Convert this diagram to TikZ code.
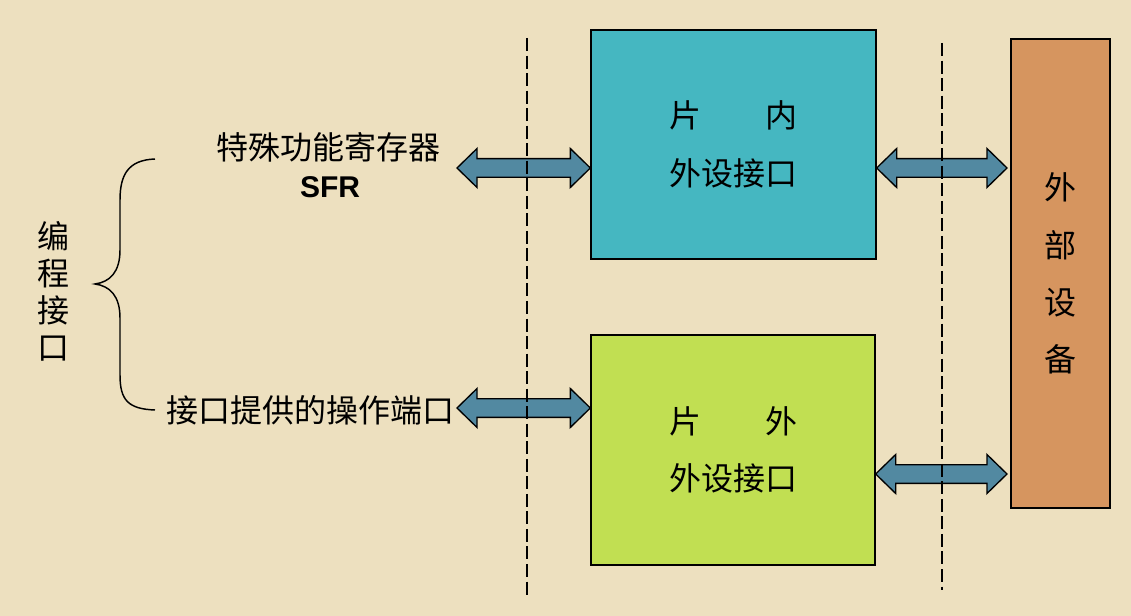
\documentclass[tikz,border=0pt]{standalone}
\usepackage{fontspec}
\newfontfamily\cjk{Noto Sans CJK SC}
\newfontfamily\arialfont{Liberation Sans}
\usetikzlibrary{calc}
\definecolor{bgtan}{HTML}{EDE0BF}
\definecolor{incyan}{HTML}{45B7C1}
\definecolor{extlime}{HTML}{C1DF52}
\definecolor{devorange}{HTML}{D6955F}
\definecolor{busblue}{HTML}{5289A1}
\newcommand{\busarrow}[2]{\draw[fill=busblue,line width=1pt,line join=miter] let \p1=(#1), \p2=(#2) in
	(\x1,\y1) -- (\x1+15pt,\y1+14.6pt) -- (\x1+15pt,\y1+7pt) -- (\x2-15pt,\y2+7pt) -- (\x2-15pt,\y2+14.6pt) -- (\x2,\y2)
	-- (\x2-15pt,\y2-14.6pt) -- (\x2-15pt,\y2-7pt) -- (\x1+15pt,\y1-7pt) -- (\x1+15pt,\y1-14.6pt) -- cycle;}

\begin{document}
\begin{tikzpicture}[x=0.75pt,y=-0.75pt,every node/.style={font=\cjk\fontsize{24}{43}\selectfont,inner sep=0pt}]
	\useasboundingbox (0,0) rectangle (1131,616);
	\fill[bgtan] (0,0) rectangle (1131,616);
	
	\begin{scope}[every node/.style={draw,line width=1pt,align=center,font=\cjk\fontsize{24}{43}\selectfont,inner sep=0pt}]
	\node[fill=incyan,minimum width=213.75pt,minimum height=171.75pt] (inner) at (733.5,144.5){片\hspace{2em}内\\外设接口};
	\node[fill=extlime,minimum width=213pt,minimum height=172.5pt] (outer) at (733,450){片\hspace{2em}外\\外设接口};
	\node[fill=devorange,minimum width=74.25pt,minimum height=351.75pt] (dev) at (1060.5,273.5){外\\部\\设\\备};
	\end{scope}
	
	\node (sfr) at (328,147){特殊功能寄存器};
	\node[font=\arialfont\bfseries\fontsize{22.5}{26}\selectfont] (sfrname) at (330,187){SFR};
	\node (port) at (310,410){接口提供的操作端口};
	\node[align=center,font=\cjk\fontsize{24}{27.75}\selectfont] (prog) at (53,291){编\\程\\接\\口};
	
	%brace
	\coordinate (bt) at (155,159);
	\coordinate (bm) at (95,284);
	\coordinate (bb) at (155,410);
	\draw[line width=1.1pt] (bt) .. controls (128,160) and (120,175) .. (120,200) -- (120,250) .. controls (120,272) and (110,282) .. (bm)
		.. controls (110,286) and (120,296) .. (120,318) -- (120,375) .. controls (120,400) and (128,409) .. (bb);
	
	%buses
	\coordinate (b1) at (457,168);
	\coordinate (b2) at (1007,168);
	\coordinate (b3) at (457,408);
	\coordinate (b4) at (1007,474);
	\busarrow{b1}{inner.west|-b1}
	\busarrow{inner.east|-b2}{b2}
	\busarrow{b3}{outer.west|-b3}
	\busarrow{outer.east|-b4}{b4}
	
	%dashed separators
	\coordinate (s1t) at (527,38);
	\coordinate (s1b) at (527,595);
	\coordinate (s2t) at (942,43);
	\coordinate (s2b) at (942,590);
	\begin{scope}[line width=1.2pt,dash pattern=on 9.75pt off 3.4pt]
	\draw (s1t) -- (s1b);
	\draw (s2t) -- (s2b);
	\end{scope}
\end{tikzpicture}
\end{document}
